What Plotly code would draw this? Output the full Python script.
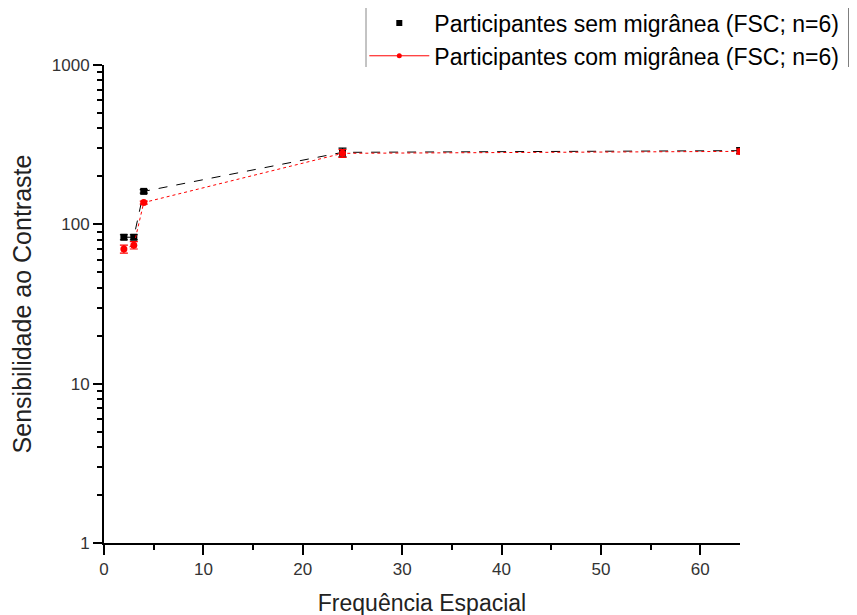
import plotly.graph_objects as go

freq = [2, 3, 4, 24, 64]
sem_vals = [83, 83, 161, 283, 290]
sem_err = [3, 3, 4, 18, 12]
com_vals = [70, 74, 137, 279, 287]
com_err = [4, 4, 3, 16, 10]

name_sem = "Participantes sem migrânea (FSC; n=6)"
name_com = "Participantes com migrânea (FSC; n=6)"

fig = go.Figure()
fig.add_trace(go.Scatter(
    x=freq, y=sem_vals, mode="lines+markers", showlegend=False,
    line=dict(color="black", width=1, dash="dash"),
    marker=dict(symbol="square", size=7, color="black"),
    error_y=dict(type="data", array=sem_err, color="black", thickness=1.2, width=4),
))
fig.add_trace(go.Scatter(
    x=freq, y=com_vals, mode="lines+markers", showlegend=False,
    line=dict(color="red", width=1, dash="dot"),
    marker=dict(symbol="circle", size=7, color="red"),
    error_y=dict(type="data", array=com_err, color="red", thickness=1.2, width=4),
))
# legend entries
fig.add_trace(go.Scatter(
    x=[None], y=[None], mode="markers", name=name_sem,
    marker=dict(symbol="square", size=6, color="black"),
))
fig.add_trace(go.Scatter(
    x=[None], y=[None], mode="lines+markers", name=name_com,
    line=dict(color="red", width=1),
    marker=dict(symbol="circle", size=5, color="red"),
))

axis_font = dict(family="Liberation Sans, Arial, sans-serif", size=17, color="#333333")

fig.update_layout(
    width=857, height=615,
    margin=dict(l=96, r=125, t=57, b=80, autoexpand=False),
    paper_bgcolor="white", plot_bgcolor="white",
    font=dict(family="Liberation Sans, Arial, sans-serif", color="black"),
    legend=dict(
        x=1.164, xanchor="right", y=1.133, yanchor="top",
        font=dict(size=23, color="black"),
        bgcolor="rgba(0,0,0,0)", itemwidth=60, tracegroupgap=0,
    ),
    xaxis=dict(
        range=[0, 64], dtick=10, tick0=0,
        showgrid=False, zeroline=False,
        showline=True, linecolor="black", linewidth=2,
        ticks="outside", ticklen=10, tickwidth=2, tickcolor="black",
        minor=dict(ticks="outside", ticklen=5, tickwidth=1.5, tickcolor="black", dtick=5, showgrid=False),
        tickfont=axis_font,
        title=dict(text="Frequência Espacial", font=dict(size=23, color="#222222"), standoff=16),
    ),
    yaxis=dict(
        type="log", range=[0, 3],
        tickvals=[1, 10, 100, 1000], ticktext=["1", "10", "100", "1000"],
        showgrid=False, zeroline=False,
        showline=True, linecolor="black", linewidth=2,
        ticks="outside", ticklen=9, tickwidth=2, tickcolor="black",
        minor=dict(ticks="outside", ticklen=5, tickwidth=1.5, tickcolor="black", dtick="D1", showgrid=False),
        tickfont=axis_font,
        title=dict(text="Sensibilidade ao Contraste", font=dict(size=25, color="#222222"), standoff=14),
    ),
)

# legend side bars
fig.add_shape(type="line", xref="paper", yref="paper",
              x0=(365 - 103) / 636, x1=(365 - 103) / 636,
              y0=(543 - 67) / 478, y1=(543 - 3) / 478,
              line=dict(color="#888888", width=1))
fig.add_shape(type="line", xref="paper", yref="paper",
              x0=(848 - 103) / 636, x1=(848 - 103) / 636,
              y0=(543 - 67) / 478, y1=(543 - 3) / 478,
              line=dict(color="#555555", width=1.5))

fig.write_html("out.html")
